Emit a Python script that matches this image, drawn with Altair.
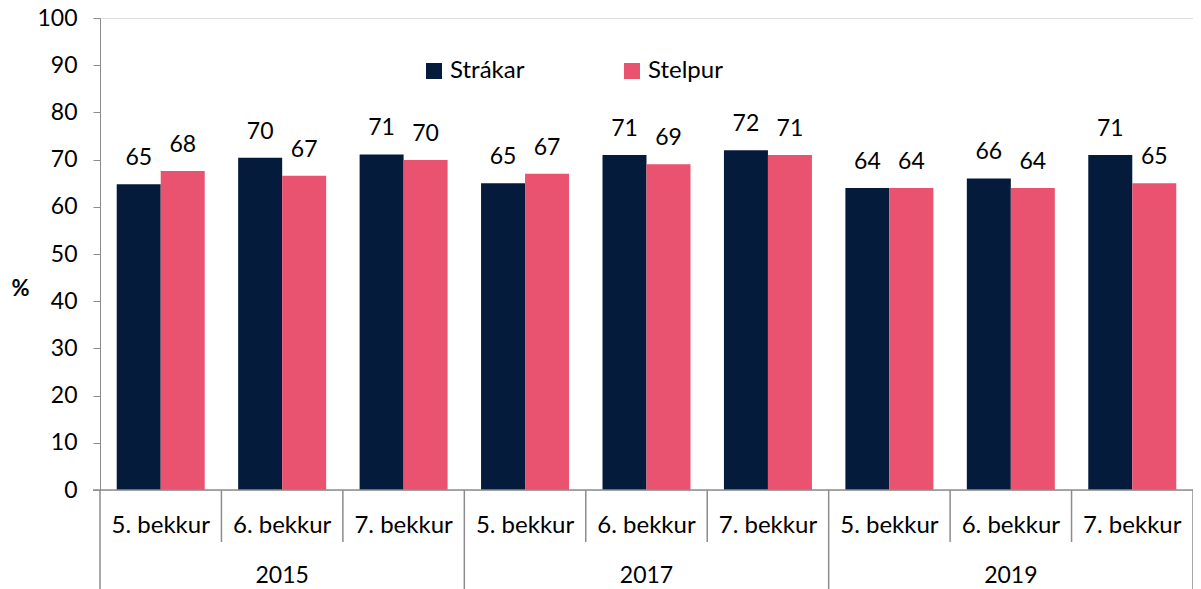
import altair as alt
import pandas as pd

years = ["2015", "2015", "2015", "2017", "2017", "2017", "2019", "2019", "2019"]
grades = ["5. bekkur", "6. bekkur", "7. bekkur"] * 3
strakar = [64.8, 70.4, 71.1, 65.0, 71.0, 72.0, 64.0, 66.0, 71.0]
stelpur = [67.6, 66.6, 69.9, 67.0, 69.0, 71.0, 64.0, 64.0, 65.0]
series = ["Strákar", "Stelpur"]
colors = ["#051B3B", "#EA5370"]

cats = [f"{y}|{g}" for y, g in zip(years, grades)]

rows = []
for c, y, g, a, b in zip(cats, years, grades, strakar, stelpur):
    rows.append({"cat": c, "year": y, "grade": g, "sex": "Strákar", "value": a})
    rows.append({"cat": c, "year": y, "grade": g, "sex": "Stelpur", "value": b})
df = pd.DataFrame(rows)

cat_df = pd.DataFrame({"cat": cats, "year": years, "grade": grades})
year_df = cat_df[cat_df["grade"] == "6. bekkur"]
long_start = cat_df[cat_df["grade"] == "5. bekkur"]
short_start = cat_df[cat_df["grade"] != "5. bekkur"]
last_df = cat_df.tail(1)

FONT = "Lato"
W, H = 1093, 472
xscale = alt.Scale(domain=cats, paddingInner=0, paddingOuter=0)
xoff = alt.Scale(domain=series, paddingInner=0, paddingOuter=0.38)

base = alt.Chart(df)

bars = base.mark_bar().encode(
    x=alt.X("cat:N", scale=xscale, axis=None, sort=cats),
    xOffset=alt.XOffset("sex:N", scale=xoff, sort=series),
    y=alt.Y(
        "value:Q",
        scale=alt.Scale(domain=[0, 100], nice=False),
        axis=alt.Axis(
            values=list(range(0, 101, 10)),
            grid=False,
            domainColor="#8C8C8C",
            tickColor="#8C8C8C",
            tickSize=7,
            labelFontSize=23,
            labelFont=FONT,
            labelColor="#000000",
            labelPadding=16,
            title="%",
            titleAngle=0,
            titleFont=FONT,
            titleFontSize=22,
            titleFontWeight="bold",
            titleColor="#000000",
            titleX=-80,
            titleY=270,
            titleAlign="center",
            titleBaseline="middle",
        ),
    ),
    color=alt.Color(
        "sex:N",
        scale=alt.Scale(domain=series, range=colors),
        sort=series,
        legend=alt.Legend(
            title=None,
            orient="none",
            legendX=322,
            legendY=41,
            direction="horizontal",
            symbolType="square",
            symbolSize=256,
            symbolStrokeWidth=0,
            labelFont=FONT,
            labelFontSize=24,
            labelColor="#000000",
            labelOffset=4,
            columnPadding=95,
        ),
    ),
)

labels = base.mark_text(
    font=FONT, fontSize=23, color="#000000", baseline="alphabetic", dy=-19
).encode(
    x=alt.X("cat:N", scale=xscale, sort=cats),
    xOffset=alt.XOffset("sex:N", scale=xoff, sort=series),
    y=alt.Y("value:Q"),
    text=alt.Text("value:Q", format=".0f"),
)

rule_style = dict(color="#8C8C8C", strokeWidth=1.5)

long_rules = alt.Chart(long_start).mark_rule(**rule_style).encode(
    x=alt.X("cat:N", scale=xscale, bandPosition=0),
    y=alt.value(H),
    y2=alt.value(H + 99),
)
end_rule = alt.Chart(last_df).mark_rule(**rule_style).encode(
    x=alt.X("cat:N", scale=xscale, bandPosition=1),
    y=alt.value(H),
    y2=alt.value(H + 99),
)
short_rules = alt.Chart(short_start).mark_rule(**rule_style).encode(
    x=alt.X("cat:N", scale=xscale, bandPosition=0),
    y=alt.value(H),
    y2=alt.value(H + 52),
)
domain_rule = alt.Chart(cat_df.head(1)).mark_rule(**rule_style).encode(
    x=alt.value(-7),
    x2=alt.value(W),
    y=alt.value(H),
)

grade_text = alt.Chart(cat_df).mark_text(
    font=FONT, fontSize=24, color="#000000", baseline="alphabetic"
).encode(
    x=alt.X("cat:N", scale=xscale),
    y=alt.value(H + 43),
    text="grade:N",
)
year_text = alt.Chart(year_df).mark_text(
    font=FONT, fontSize=23, color="#000000", baseline="alphabetic"
).encode(
    x=alt.X("cat:N", scale=xscale),
    y=alt.value(H + 93),
    text="year:N",
)

chart = (
    alt.layer(bars, labels, long_rules, end_rule, short_rules, domain_rule, grade_text, year_text)
    .properties(
        width=W,
        height=H,
        autosize=alt.AutoSizeParams(type="none"),
        padding={"left": 92, "top": 10, "right": 0, "bottom": 99},
    )
    .configure_view(stroke=None)
    .configure(background="white")
)

chart.save("out.html", embed_options={"renderer": "svg", "actions": False})
